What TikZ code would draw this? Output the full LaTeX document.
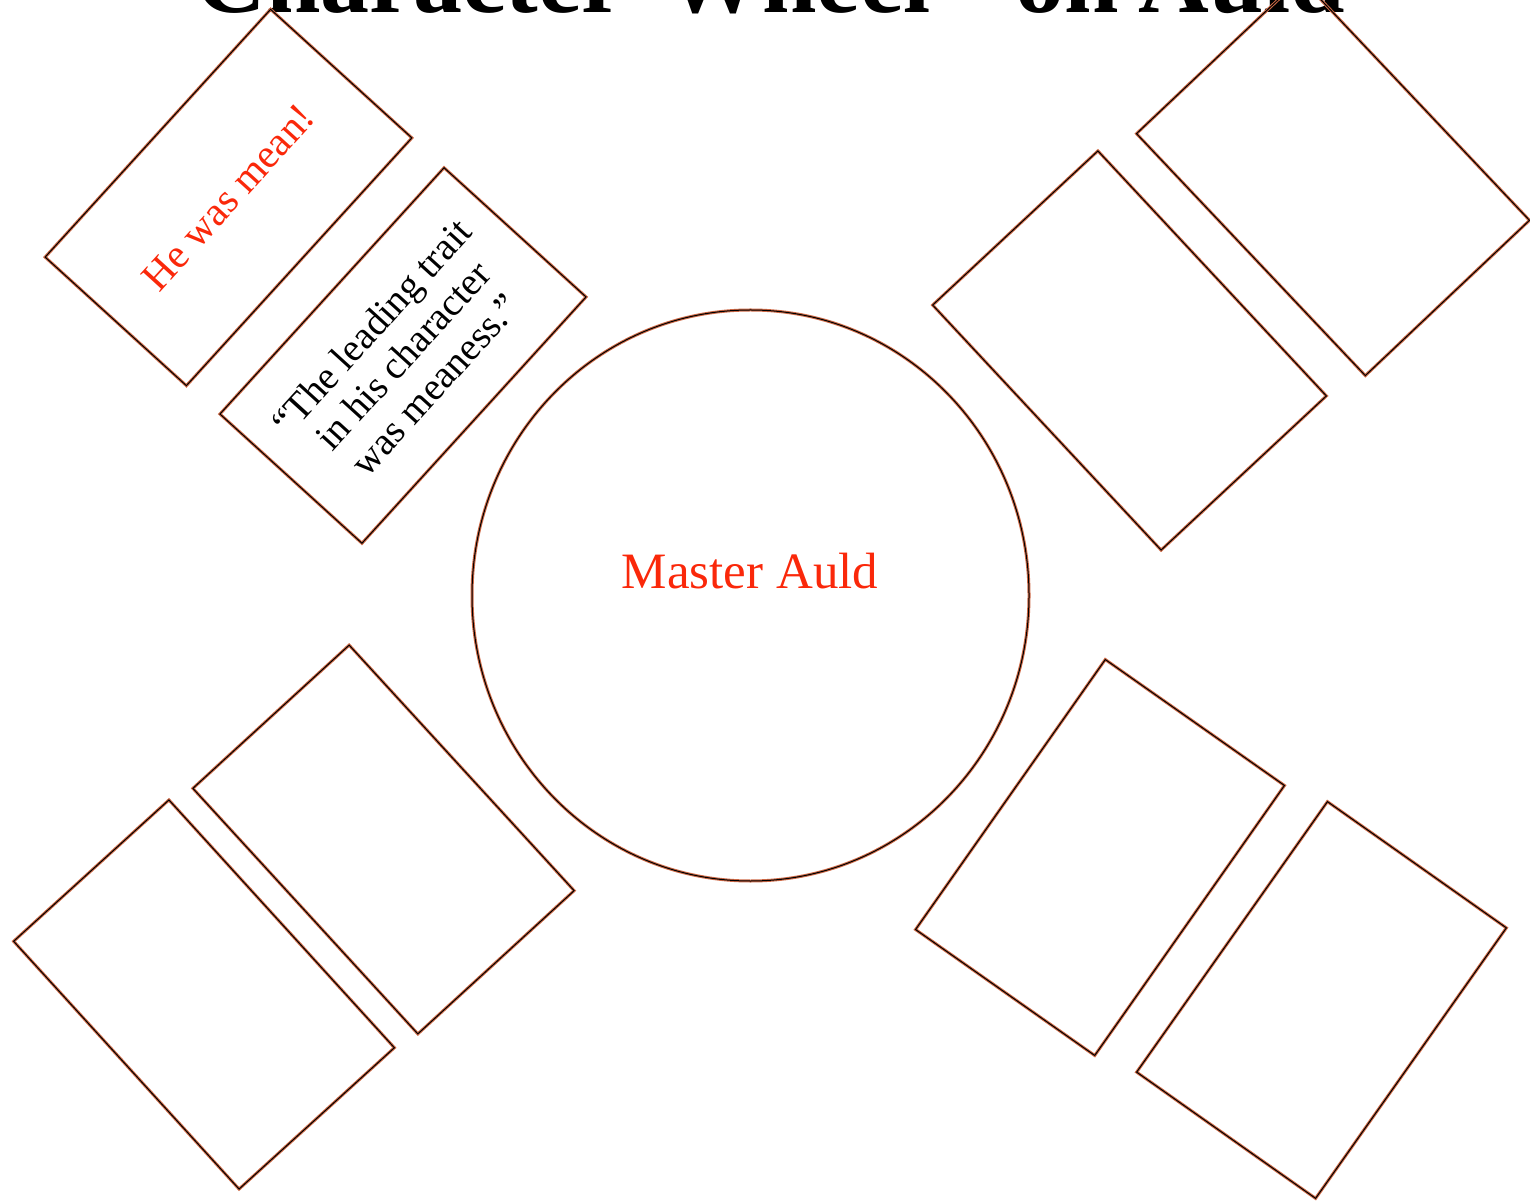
\documentclass[tikz,border=0pt]{standalone}
\usepackage{fontspec}
\setmainfont{Liberation Serif}
\usetikzlibrary{shapes.geometric}
\definecolor{edgeorange}{RGB}{205,105,70}
\definecolor{redtxt}{RGB}{250,40,10}
\tikzset{
  outline/.style={draw=edgeorange, double=black, double distance=0.5pt, line width=0.5pt},
  card/.style={outline, rectangle, inner sep=0pt, outer sep=0pt, align=center},
  hubshape/.style={outline, ellipse, inner sep=0pt, outer sep=0pt},
  titletext/.style={font=\bfseries\fontsize{49}{49}\selectfont, inner sep=0pt, anchor=base west},
  redlabel/.style={text=redtxt},
}
\begin{document}
\begin{tikzpicture}[x=0.5pt,y=-0.5pt]
\useasboundingbox (0,0) rectangle (1530,1202);
% title (cut off at top)
\node[titletext] (title) at (195,13)
  {\makebox[234.5pt][l]{Character}\makebox[175.5pt][l]{Wheel}\makebox[61.5pt][l]{on}Auld};
% central circle
\node[hubshape, minimum width=278.5pt, minimum height=285.5pt] (hub) at (750.5,595.5) {};
\node[redlabel, font=\fontsize{25.5}{30}\selectfont] (name) at (750,571) {Master Auld};
% upper left cards
\node[card, minimum width=167.5pt, minimum height=95.5pt, rotate=47.7,
      text=redtxt, font=\fontsize{20.5}{24}\selectfont] (c1) at (228.5,197.5) {He was mean!};
\node[card, minimum width=166.5pt, minimum height=96pt, rotate=47.7,
      font=\fontsize{19.5}{21.5}\selectfont] (c2) at (403,355.5)
      {“The leading trait\\in his character\\was meaness.”};
% upper right cards
\node[card, minimum width=113pt, minimum height=166.5pt, rotate=43.4] (c3) at (1333,177) {};
\node[card, minimum width=113pt, minimum height=167.5pt, rotate=43] (c4) at (1129.5,350.5) {};
% lower left cards
\node[card, minimum width=106pt, minimum height=166.5pt, rotate=42.5] (c5) at (383.5,839.5) {};
\node[card, minimum width=105pt, minimum height=167.5pt, rotate=42.3] (c6) at (204,994.5) {};
% lower right cards
\node[card, minimum width=109.5pt, minimum height=165pt, rotate=-35.1] (c7) at (1100,857.5) {};
\node[card, minimum width=109.5pt, minimum height=165.5pt, rotate=-35.2] (c8) at (1321.5,1000) {};
\end{tikzpicture}
\end{document}
